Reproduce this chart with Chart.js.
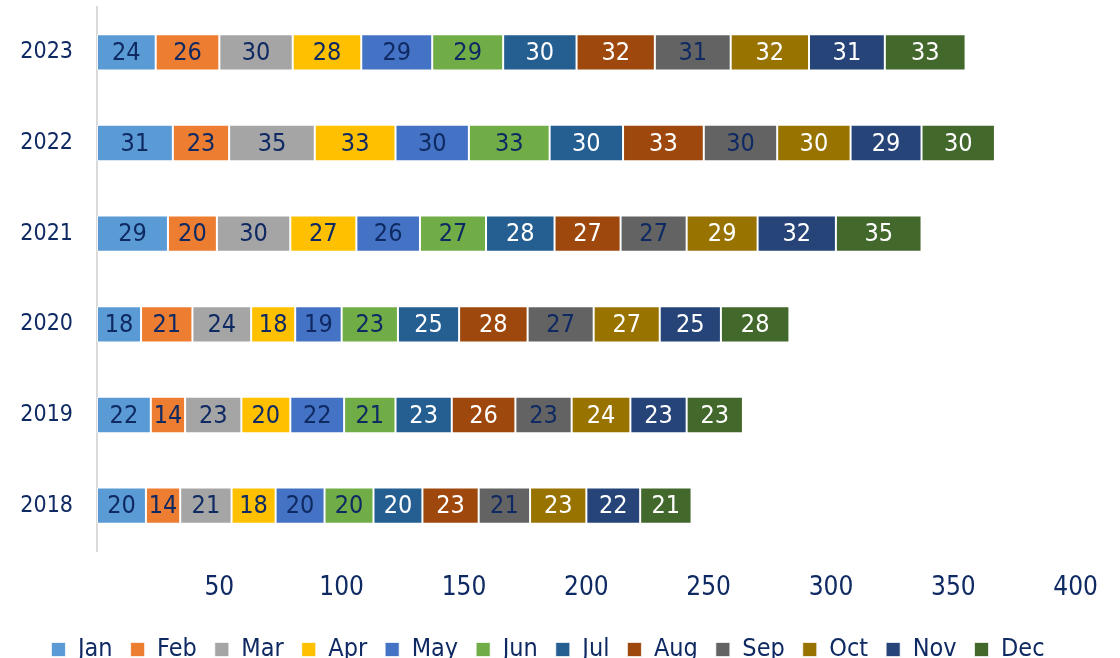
<!DOCTYPE html>
<html>
<head>
<meta charset="utf-8">
<script src="https://cdn.jsdelivr.net/npm/chart.js@4.4.1/dist/chart.umd.min.js"></script>
<style>
  html, body { margin: 0; padding: 0; background: #fff; overflow: hidden; }
  /* a bit taller than the window, so the legend is cut at the bottom like the original */
  #wrap { width: 1120px; height: 672px; }
</style>
</head>
<body>
<div id="wrap"><canvas id="c"></canvas></div>
<script>
// years, top to bottom
const years = ['2023', '2022', '2021', '2020', '2019', '2018'];
const months = ['Jan', 'Feb', 'Mar', 'Apr', 'May', 'Jun', 'Jul', 'Aug', 'Sep', 'Oct', 'Nov', 'Dec'];

// one array per month, values by year (2023 -> 2018)
const jan = [24, 31, 29, 18, 22, 20];
const feb = [26, 23, 20, 21, 14, 14];
const mar = [30, 35, 30, 24, 23, 21];
const apr = [28, 33, 27, 18, 20, 18];
const may = [29, 30, 26, 19, 22, 20];
const jun = [29, 33, 27, 23, 21, 20];
const jul = [30, 30, 28, 25, 23, 20];
const aug = [32, 33, 27, 28, 26, 23];
const sep = [31, 30, 27, 27, 23, 21];
const oct = [32, 30, 29, 27, 24, 23];
const nov = [31, 29, 32, 25, 23, 22];
const dec = [33, 30, 35, 28, 23, 21];

const xTicks = [50, 100, 150, 200, 250, 300, 350, 400];

const series = [jan, feb, mar, apr, may, jun, jul, aug, sep, oct, nov, dec];
const colors = ['#5B9BD5', '#ED7D31', '#A5A5A5', '#FFC000', '#4472C4', '#70AD47',
                '#255E91', '#9E480E', '#636363', '#997300', '#264478', '#43682B'];
const navy = '#0F2A63';
// label colour inside each segment
const labelColors = [navy, navy, navy, navy, navy, navy, '#fff', '#fff', navy, '#fff', '#fff', '#fff'];
const FONT = '"DejaVu Sans Condensed", "DejaVu Sans", sans-serif';

// simple value labels in the middle of each segment
const segLabels = {
    id: 'segLabels',
    afterDatasetsDraw(chart) {
        const ctx = chart.ctx;
        ctx.save();
        ctx.font = '25px ' + FONT;
        ctx.textAlign = 'center';
        ctx.textBaseline = 'middle';
        chart.data.datasets.forEach((ds, i) => {
            const meta = chart.getDatasetMeta(i);
            if (meta.hidden) return;
            meta.data.forEach((bar, j) => {
                const mid = (bar.x + bar.base) / 2;
                ctx.fillStyle = labelColors[i];
                ctx.fillText(String(ds.data[j]), mid, bar.y + 1);
            });
        });
        ctx.restore();
    }
};

new Chart(document.getElementById('c'), {
    type: 'bar',
    data: {
        labels: years,
        datasets: months.map((m, i) => ({
            label: m,
            data: series[i],
            backgroundColor: colors[i],
            borderColor: 'rgba(255,255,255,0.7)',
            borderWidth: 1,
            borderSkipped: false,
            categoryPercentage: 1,
            barPercentage: 0.4
        }))
    },
    options: {
        indexAxis: 'y',
        responsive: true,
        maintainAspectRatio: false,
        animation: false,
        layout: { padding: { top: 7, right: 24, left: 0, bottom: 0 } },
        scales: {
            x: {
                stacked: true,
                min: 0,
                max: 400,
                afterBuildTicks: (axis) => { axis.ticks = xTicks.map(v => ({ value: v })); },
                afterFit: (axis) => { axis.height = 68; },
                grid: { display: false, drawTicks: false },
                border: { display: false },
                ticks: { color: navy, font: { family: FONT, size: 26 }, padding: 22, maxRotation: 0 }
            },
            y: {
                stacked: true,
                afterFit: (axis) => { axis.width = 97; },
                // invisible tick marks give the gap, so the axis does not pad the top
                grid: { display: false, drawTicks: true, tickLength: 24 },
                border: { display: true, color: '#D9D9D9', width: 2 },
                ticks: { color: navy, font: { family: FONT, size: 23, lineHeight: 0.5 }, padding: 0 }
            }
        },
        plugins: {
            legend: {
                position: 'bottom',
                labels: {
                    color: navy,
                    font: { family: FONT, size: 25 },
                    boxWidth: 14,
                    boxHeight: 14,
                    padding: 18
                }
            },
            tooltip: { enabled: false }
        }
    },
    plugins: [segLabels]
});
</script>
</body>
</html>
